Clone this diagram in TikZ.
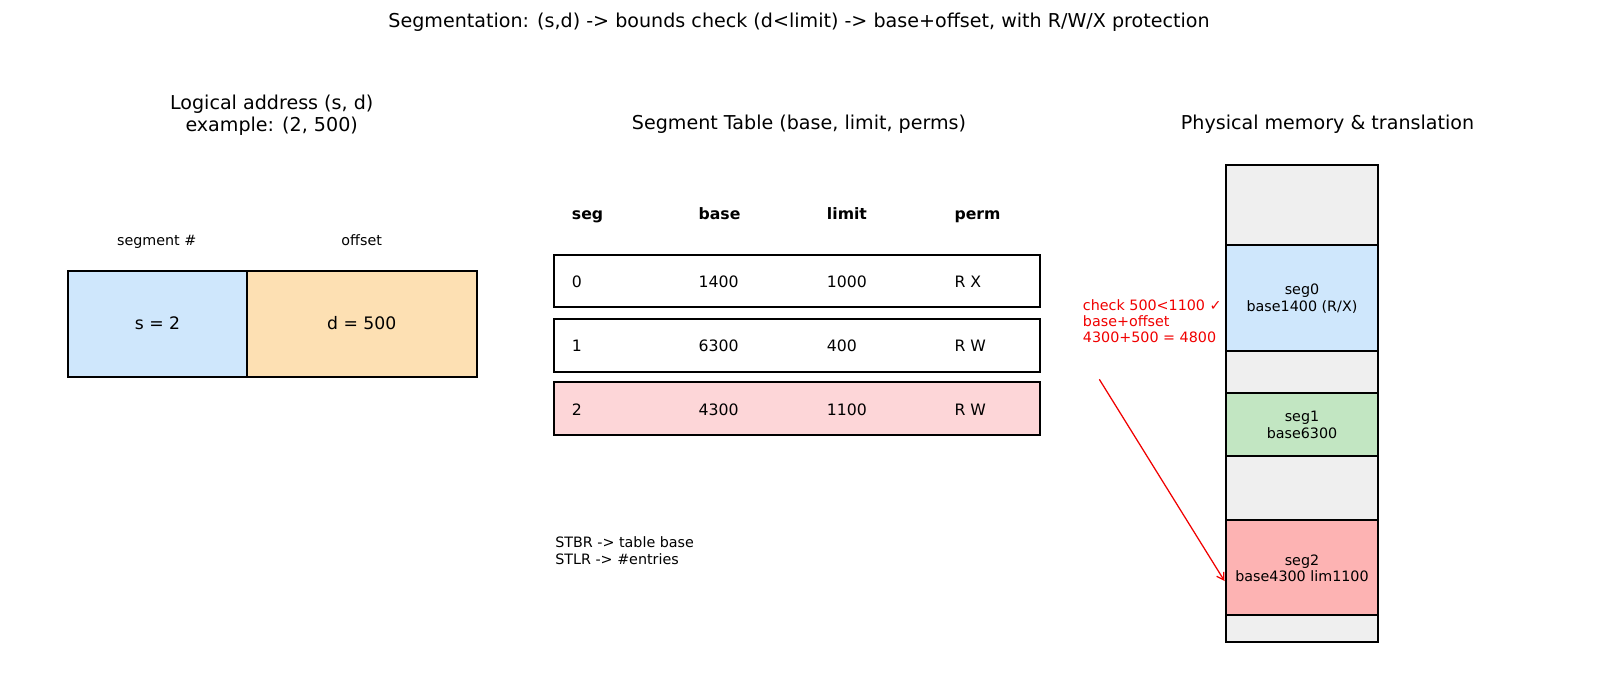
\documentclass[tikz,border=0pt]{standalone}
\usepackage{fontspec}
\setmainfont{DejaVu Sans}
\usetikzlibrary{arrows.meta}
\definecolor{sblue}{HTML}{CFE7FC}
\definecolor{dorange}{HTML}{FDE0B3}
\definecolor{rowpink}{HTML}{FDD6D8}
\definecolor{memgray}{HTML}{EFEFEF}
\definecolor{memgreen}{HTML}{C2E6C2}
\definecolor{memred}{HTML}{FDB3B3}
\definecolor{notered}{HTML}{F00000}
\begin{document}
\begin{tikzpicture}[x=0.72pt,y=-0.72pt,
  box/.style={draw=black,line width=1.2pt},
  ttl/.style={font=\fontsize{13.75}{16}\selectfont,align=center,inner sep=0pt},
  small/.style={font=\fontsize{10.3}{11.8}\selectfont,align=center,inner sep=0pt},
  one/.style={text height=0.86em,text depth=0em},
  tab/.style={font=\fontsize{11.3}{13}\selectfont,anchor=west,inner sep=0pt,one},
  tabh/.style={font=\fontsize{11.3}{13}\selectfont\bfseries,anchor=west,inner sep=0pt,one},
  note/.style={font=\fontsize{10.3}{11.5}\selectfont,align=left,inner sep=0pt,text=notered,anchor=west}]
\useasboundingbox (0,0) rectangle (1600,686);

% main title
\node[ttl,one] (title) at (799,22) {Segmentation: (s,d) -> bounds check (d<limit) -> base+offset, with R/W/X protection};

% logical address
\node[ttl] (ltitle) at (271.7,115.5) {Logical address (s, d)\\example: (2, 500)};
\node[small,one] (seglbl) at (156.7,240) {segment \#};
\node[small,one] (offlbl) at (361.7,240) {offset};
\draw[box,fill=sblue] (68.3,270.7) rectangle (246.7,376.7);
\draw[box,fill=dorange] (246.7,270.7) rectangle (476.7,376.7);
\node[font=\fontsize{12.4}{14}\selectfont,inner sep=0pt,one] (sval) at (157.5,323.7) {s = 2};
\node[font=\fontsize{12.4}{14}\selectfont,inner sep=0pt,one] (dval) at (361.7,323.7) {d = 500};

% segment table
\node[ttl,one] (ttitle) at (799,123.5) {Segment Table (base, limit, perms)};
\node[tabh] (hseg) at (571.7,213.5) {seg};
\node[tabh] (hbase) at (698.3,213.5) {base};
\node[tabh] (hlim) at (826.7,213.5) {limit};
\node[tabh] (hperm) at (954.3,213.5) {perm};
\draw[box,fill=white] (554.3,255) rectangle (1040,307.3);
\draw[box,fill=white] (554.3,319) rectangle (1040,371.7);
\draw[box,fill=rowpink] (554.3,382.3) rectangle (1040,435);
\node[tab] (r0a) at (571.7,281.5) {0};
\node[tab] (r0b) at (698.3,281.5) {1400};
\node[tab] (r0c) at (826.7,281.5) {1000};
\node[tab] (r0d) at (954.3,281.5) {R X};
\node[tab] (r1a) at (571.7,346) {1};
\node[tab] (r1b) at (698.3,346) {6300};
\node[tab] (r1c) at (826.7,346) {400};
\node[tab] (r1d) at (954.3,346) {R W};
\node[tab] (r2a) at (571.7,409.5) {2};
\node[tab] (r2b) at (698.3,409.5) {4300};
\node[tab] (r2c) at (826.7,409.5) {1100};
\node[tab] (r2d) at (954.3,409.5) {R W};
\node[small,align=left,anchor=west] (stbr) at (555,550.5) {STBR -> table base\\STLR -> \#entries};

% physical memory
\node[ttl,one] (ptitle) at (1327.5,123.5) {Physical memory \& translation};
\draw[box,fill=memgray] (1225.7,165) rectangle (1378.3,244.7);
\draw[box,fill=sblue] (1225.7,244.7) rectangle (1378.3,350.7);
\draw[box,fill=memgray] (1225.7,350.7) rectangle (1378.3,392.7);
\draw[box,fill=memgreen] (1225.7,392.7) rectangle (1378.3,455.7);
\draw[box,fill=memgray] (1225.7,455.7) rectangle (1378.3,520);
\draw[box,fill=memred] (1225.7,520) rectangle (1378.3,615);
\draw[box,fill=memgray] (1225.7,615) rectangle (1378.3,641.7);
\node[small] (seg0) at (1302,298.5) {seg0\\base1400 (R/X)};
\node[small] (seg1) at (1302,425) {seg1\\base6300};
\node[small] (seg2) at (1302,568.3) {seg2\\base4300 lim1100};

% check note and arrow
\node[note] (check) at (1082.7,321) {check 500<1100 ✓\\base+offset\\4300+500 = 4800};
\coordinate (arrstart) at (1099.3,379.3);
\coordinate (arrend) at (1224.5,581);
\draw[notered,line width=0.9pt,-{Straight Barb[length=5pt,width=6pt]}] (arrstart) -- (arrend);
\end{tikzpicture}
\end{document}
